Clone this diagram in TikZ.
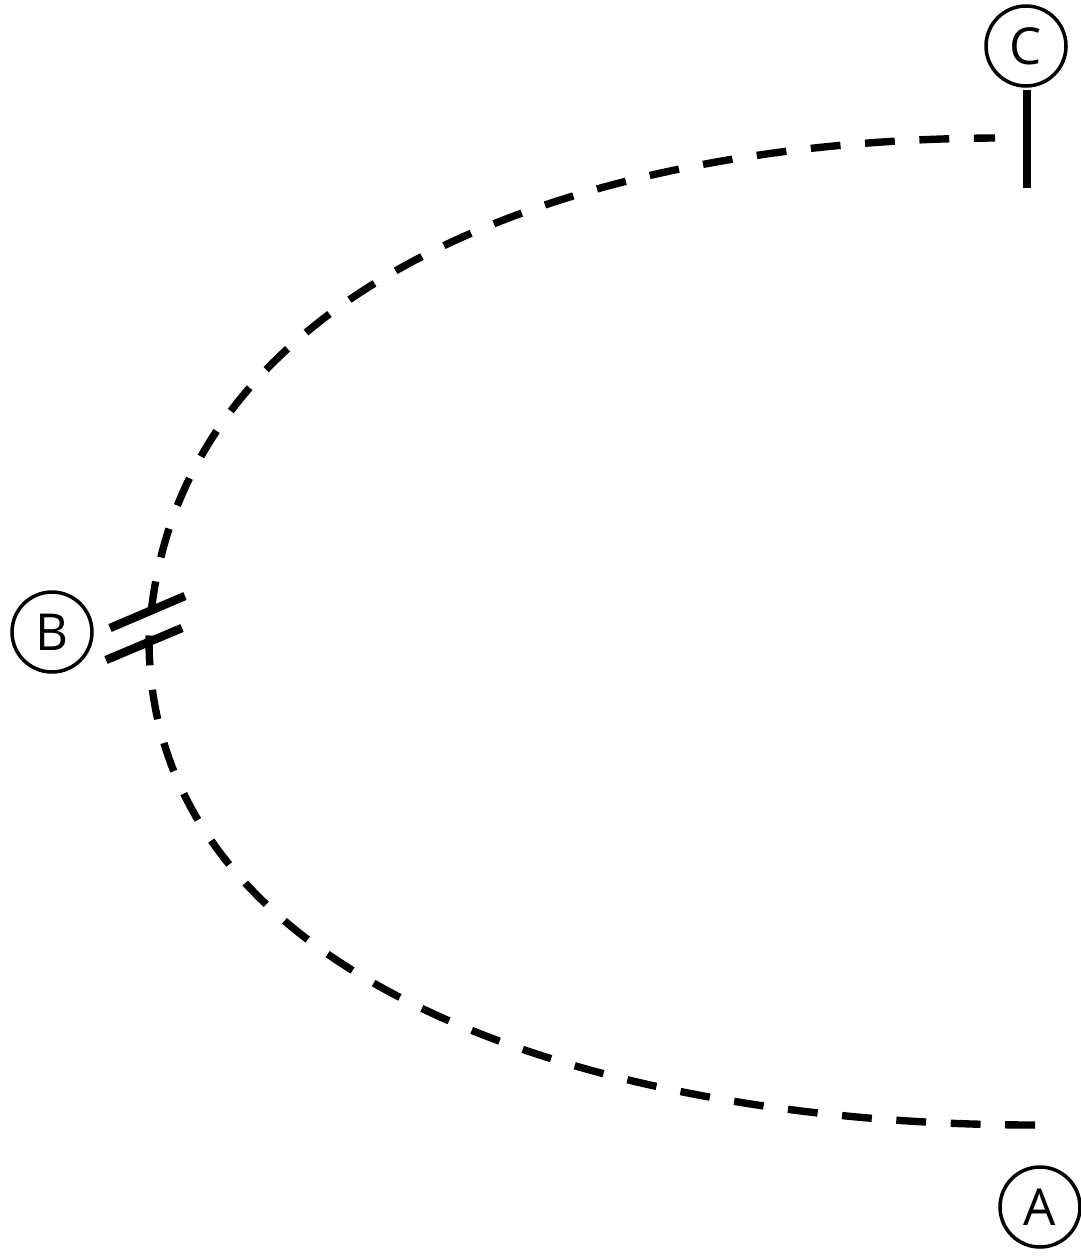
\documentclass[tikz,border=0pt]{standalone}
\usepackage{fontspec}
\setsansfont{Open Sans}
\begin{document}
\begin{tikzpicture}[x=0.02cm, y=-0.02cm,
    label/.style={circle, draw, line width=2pt, minimum size=1.6cm, inner sep=0pt, font=\sffamily\fontsize{29}{29}\selectfont},
    path/.style={line width=4.2pt, dash pattern=on 17pt off 14pt},
    tick/.style={line width=4.8pt}]
    \useasboundingbox (0,0) rectangle (1081,1258);

    % --- points ---
    \node[label] (C) at (1026,46) {C};
    \node[label] (B) at (52,632) {B};
    \node[label] (A) at (1040,1207) {A};
    \coordinate (endA) at (1035,1125);
    \coordinate (midB) at (149,640);
    \coordinate (endC) at (995,138);

    % --- the curve ---
    \draw[path] (endA) .. controls (600,1125) and (150,985) .. (midB)
                       .. controls (165,300) and (550,140) .. (endC);

    % marks
    \draw[tick] (1027,90) -- (1027,188);
    \draw[tick] (110,628) -- (185,596);
    \draw[tick] (106,660) -- (182,628);
\end{tikzpicture}
\end{document}
